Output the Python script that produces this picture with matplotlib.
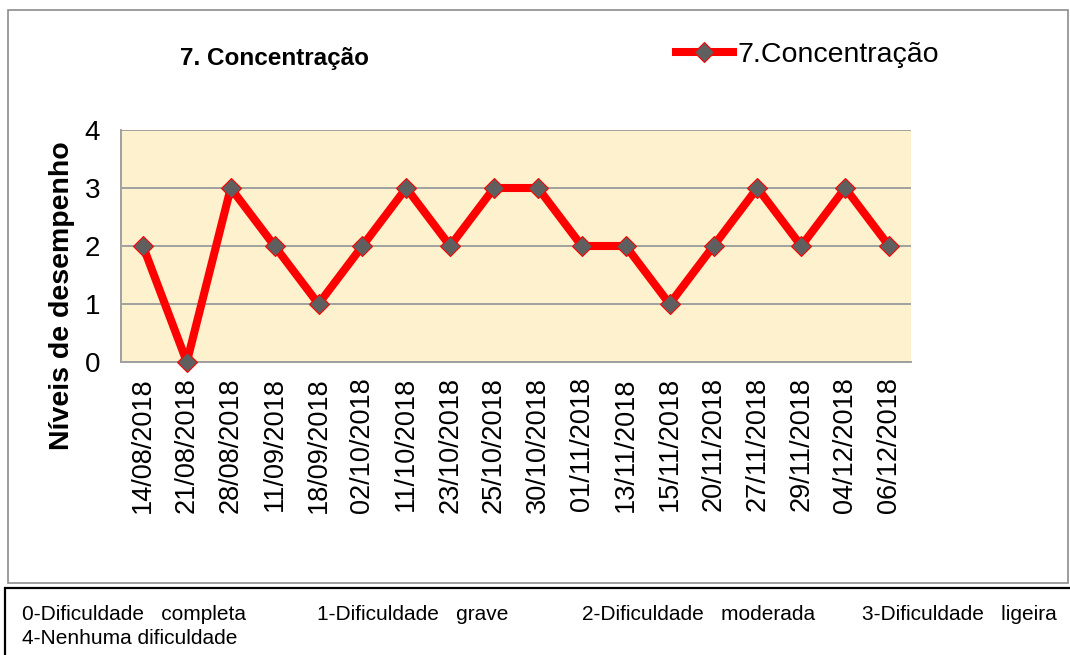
"""Recreate the '7. Concentração' performance-level line chart."""

import matplotlib
matplotlib.use("Agg")
import matplotlib.pyplot as plt
from matplotlib.lines import Line2D
from matplotlib.patches import Rectangle

plt.rcParams["font.family"] = ["Liberation Sans", "DejaVu Sans"]

DATES = ["14/08/2018", "21/08/2018", "28/08/2018", "11/09/2018", "18/09/2018",
         "02/10/2018", "11/10/2018", "23/10/2018", "25/10/2018", "30/10/2018",
         "01/11/2018", "13/11/2018", "15/11/2018", "20/11/2018", "27/11/2018",
         "29/11/2018", "04/12/2018", "06/12/2018"]
LEVELS = [2, 0, 3, 2, 1, 2, 3, 2, 3, 3, 2, 2, 1, 2, 3, 2, 3, 2]
Y_TICKS = [0, 1, 2, 3, 4]
SERIES_NAME = "7.Concentração"
TITLE = "7. Concentração"
Y_LABEL = "Níveis de desempenho"
KEY_ROW1 = ["0-Dificuldade   completa", "1-Dificuldade   grave",
            "2-Dificuldade   moderada", "3-Dificuldade   ligeira"]
KEY_ROW2 = ["4-Nenhuma dificuldade"]

W, H = 1070, 655
fig = plt.figure(figsize=(W / 100, H / 100), dpi=100)


def fx(px):
    return px / W


def fy(py):
    return 1 - py / H


# outer chart frame and key box
fig.patches.append(Rectangle((fx(8), fy(583)), fx(1060), 573 / H, transform=fig.transFigure,
                             fill=False, edgecolor="#8c8c8c", linewidth=1.2))
fig.patches.append(Rectangle((fx(5), fy(660)), fx(1070), 72 / H, transform=fig.transFigure,
                             fill=False, edgecolor="black", linewidth=1.6))

ax = fig.add_axes([fx(121), fy(362), fx(790), 232 / H])
ax.set_facecolor("#fef1cd")
x = list(range(len(DATES)))
ax.plot(x, LEVELS, color="#ff0000", linewidth=5.8, marker="D", markersize=10,
        markerfacecolor="#5f5f5f", markeredgecolor="#ff0000", markeredgewidth=0.8,
        zorder=3, clip_on=False)

ax.set_xlim(-0.5, len(DATES) - 0.5)
ax.set_ylim(0, 4)
ax.set_yticks(Y_TICKS)
ax.set_xticks(x)
ax.set_xticklabels(DATES, rotation=90, fontsize=19.5)
ax.tick_params(axis="x", length=0, pad=11)
ax.tick_params(axis="y", length=0, pad=15, labelsize=20)
ax.yaxis.grid(True, color="#a0a0a0", linewidth=1.4)
ax.set_axisbelow(True)
for side in ("top", "right"):
    ax.spines[side].set_visible(False)
for side in ("left", "bottom"):
    ax.spines[side].set_color("#a0a0a0")
    ax.spines[side].set_linewidth(1.4)

fig.text(fx(62), fy(296), Y_LABEL, rotation=90, ha="center", va="center",
         fontsize=20.5, fontweight="bold")
fig.text(fx(275), fy(58), TITLE, ha="center", va="center", fontsize=17.5, fontweight="bold")

handle = Line2D([0], [0], color="#ff0000", linewidth=5.8, marker="D", markersize=10,
                markerfacecolor="#5f5f5f", markeredgecolor="#ff0000", markeredgewidth=0.8)
fig.legend([handle], [SERIES_NAME], loc="center left", bbox_to_anchor=(fx(676), fy(55)),
           frameon=False, fontsize=20.5, handlelength=2.0, handletextpad=0.15,
           borderpad=0, borderaxespad=0)

for label, px in zip(KEY_ROW1, [22, 317, 582, 862]):
    fig.text(fx(px), fy(615), label, ha="left", va="center", fontsize=15)
for label in KEY_ROW2:
    fig.text(fx(22), fy(638), label, ha="left", va="center", fontsize=15)

fig.savefig("out.png", dpi=100)
